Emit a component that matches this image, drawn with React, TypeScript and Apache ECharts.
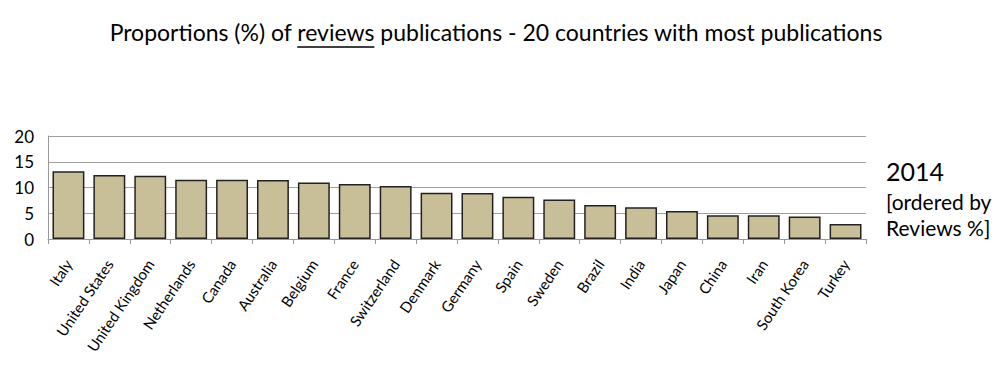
import React, { useEffect, useRef } from "react";
import * as echarts from "echarts";

const countries = [
  "Italy", "United States", "United Kingdom", "Netherlands", "Canada", "Australia",
  "Belgium", "France", "Switzerland", "Denmark", "Germany", "Spain", "Sweden",
  "Brazil", "India", "Japan", "China", "Iran", "South Korea", "Turkey",
];
const reviewsPct = [
  13.15, 12.45, 12.3, 11.5, 11.5, 11.45, 10.95, 10.7, 10.3, 9.0,
  8.95, 8.2, 7.65, 6.6, 6.15, 5.45, 4.6, 4.6, 4.35, 2.9,
];
const yTicks = [0, 5, 10, 15, 20];
const titlePre = "Proportions (%) of ";
const titleWord = "reviews";
const titlePost = " publications - 20 countries with most publications";

const FONT = "Lato";
const TITLE_SIZE = 23;

export default function App() {
  const ref = useRef<HTMLDivElement>(null);
  useEffect(() => {
    if (!ref.current) return;
    const chart = echarts.init(ref.current, null, { renderer: "svg" });
    const cv = document.createElement("canvas").getContext("2d")!;
    cv.font = `${TITLE_SIZE}px ${FONT}`;
    const wPre = cv.measureText(titlePre).width;
    const wWord = cv.measureText(titleWord).width;
    const wAll = cv.measureText(titlePre + titleWord + titlePost).width;
    const x0 = 496 - wAll / 2;
    chart.setOption({
      animation: false,
      backgroundColor: "#ffffff",
      graphic: [
        {
          type: "text",
          x: 496,
          y: 32,
          style: {
            text: titlePre + titleWord + titlePost,
            fontFamily: FONT,
            fontSize: TITLE_SIZE,
            fill: "#000",
            align: "center",
            verticalAlign: "middle",
          },
        },
        { type: "line", shape: { x1: x0 + wPre, y1: 47, x2: x0 + wPre + wWord, y2: 47 }, style: { stroke: "#000", lineWidth: 1.3 } },
        { type: "text", left: 886, top: 158, style: { text: "2014", fontFamily: FONT, fontSize: 25, fill: "#000" } },
        { type: "text", left: 886, top: 191, style: { text: "[ordered by", fontFamily: FONT, fontSize: 21, fill: "#000" } },
        { type: "text", left: 886, top: 217, style: { text: "Reviews %]", fontFamily: FONT, fontSize: 21, fill: "#000" } },
      ],
      grid: { left: 48, right: 134, top: 136, bottom: 135 },
      xAxis: {
        type: "category",
        data: countries,
        axisLine: { show: true, lineStyle: { color: "#999", width: 1 } },
        axisTick: { show: true, length: 5, lineStyle: { color: "#999" } },
        axisLabel: { rotate: 56, fontFamily: FONT, fontSize: 15, color: "#000", margin: 22, interval: 0 },
      },
      yAxis: {
        type: "value",
        min: yTicks[0],
        max: yTicks[yTicks.length - 1],
        interval: 5,
        axisLine: { show: true, lineStyle: { color: "#999", width: 1 } },
        axisTick: { show: false },
        axisLabel: { fontFamily: FONT, fontSize: 17, color: "#000", margin: 14 },
        splitLine: { show: true, lineStyle: { color: "#a0a0a0", width: 1 } },
      },
      series: [
        {
          type: "bar",
          data: reviewsPct,
          barCategoryGap: "22%",
          itemStyle: { color: "#c8bf98", borderColor: "#222", borderWidth: 1.5 },
        },
      ],
    });
    return () => chart.dispose();
  }, []);
  return <div ref={ref} style={{ width: 1000, height: 374, position: "absolute", left: 0, top: 0 }} />;
}
